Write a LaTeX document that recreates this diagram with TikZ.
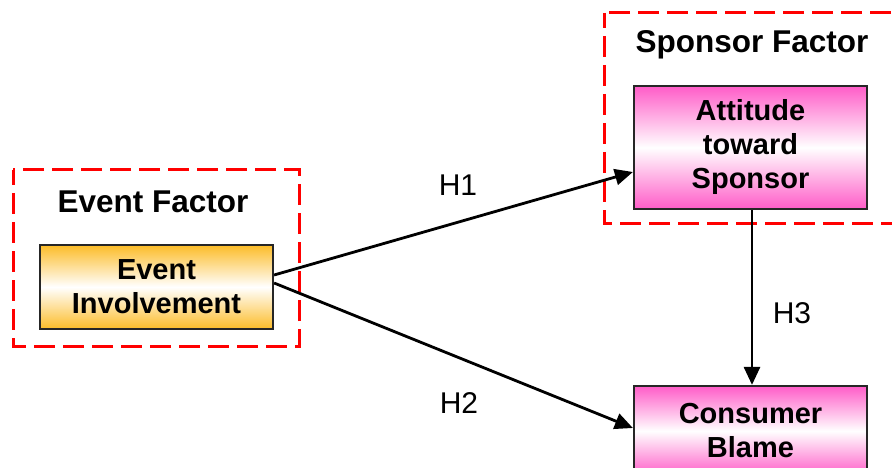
\documentclass[tikz,border=0pt]{standalone}
\usepackage{fontspec}
\setmainfont{Liberation Sans}
\usetikzlibrary{arrows.meta,positioning}

\definecolor{evorange}{RGB}{252,188,40}
\definecolor{sppink}{RGB}{255,92,200}
\definecolor{groupred}{RGB}{255,0,0}

\tikzset{
  groupbox/.style={draw=groupred, line width=3pt, dash pattern=on 21pt off 8pt, dash phase=6pt},
  grouptitle/.style={font=\fontsize{31.5}{36}\selectfont\bfseries, anchor=base, inner sep=0pt},
  varbox/.style={draw=black!85, line width=2.2pt, minimum width=233pt, align=center,
    font=\fontsize{29}{34}\selectfont\bfseries, inner sep=0pt},
  eventfill/.style={top color=evorange, bottom color=evorange, middle color=white},
  sponsorfill/.style={top color=sppink, bottom color=sppink, middle color=white},
  link/.style={line width=2.8pt, -{Triangle[length=18pt,width=16pt]}},
  hlabel/.style={font=\fontsize{30}{34}\selectfont, inner sep=0pt}
}

\begin{document}
\begin{tikzpicture}[x=1pt,y=-1pt]
  \useasboundingbox (0,0) rectangle (892,468);
  \clip (0,0) rectangle (892,468);
  \fill[white] (0,0) rectangle (892,468);

  % factor groups
  \draw[groupbox] (13,170) rectangle (299,346);
  \draw[groupbox] (604,13) rectangle (897,223);
  \node[grouptitle] (evtitle) at (153,212) {Event Factor};
  \node[grouptitle] (sptitle) at (752,53) {Sponsor Factor};

  % variables
  \node[varbox, eventfill, minimum height=84pt] (ev) at (156.5,287) {Event\\Involvement};
  \node[varbox, sponsorfill, minimum height=123pt] (att) at (750.5,147.5) {Attitude\\toward\\Sponsor};
  \node[varbox, sponsorfill, minimum height=90pt] (cb) at (750.5,431) {Consumer\\Blame};

  % hypotheses
  \draw[link] ([yshift=12pt]ev.east) -- ([yshift=-24.5pt]att.west);
  \draw[link] ([yshift=4pt]ev.east) -- ([yshift=3pt]cb.west);
  \draw[link] ([xshift=1.5pt]att.south) -- ([xshift=1.5pt]cb.north);

  \node[hlabel] (h1) at (458,185) {H1};
  \node[hlabel] (h2) at (459,403) {H2};
  \node[hlabel] (h3) at (792,313) {H3};
\end{tikzpicture}
\end{document}
